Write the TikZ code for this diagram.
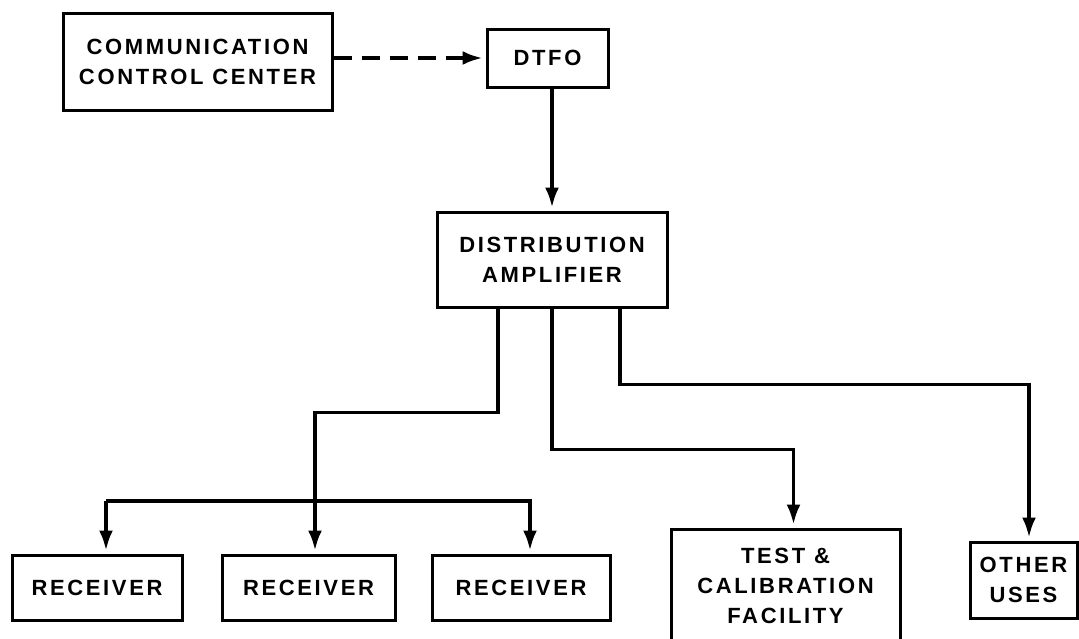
\documentclass[tikz,border=0pt]{standalone}
\usepackage{fontspec}
\usepackage{tikz}
\usetikzlibrary{arrows.meta}
\newfontfamily\boxfont{Liberation Sans}[LetterSpace=12]

\begin{document}
\begin{tikzpicture}[x=1pt,y=-1pt,
  unit/.style={draw,line width=3pt,inner sep=0pt,align=center,
    font=\boxfont\bfseries\fontsize{22}{30}\selectfont},
  line/.style={line width=3.5pt},
  arr/.style={line,-{Latex[length=20pt,width=14pt]},shorten >=3pt}]
\useasboundingbox (0,0) rectangle (1079,638);
\node[unit,minimum width=269,minimum height=97] (ccc) at (197.5,61.5) {COMMUNICATION\\CONTROL CENTER};
\node[unit,minimum width=121,minimum height=58] (dtfo) at (547.5,58) {DTFO};
\node[unit,minimum width=230,minimum height=95] (amp) at (552,259.5) {DISTRIBUTION\\AMPLIFIER};
\node[unit,minimum width=170,minimum height=65] (rec1) at (97,587.5) {RECEIVER};
\node[unit,minimum width=173,minimum height=65] (rec2) at (308.5,587.5) {RECEIVER};
\node[unit,minimum width=178,minimum height=65] (rec3) at (521,587.5) {RECEIVER};
\node[unit,minimum width=229,minimum height=113] (test) at (785.5,585.5) {TEST \&\\CALIBRATION\\FACILITY};
\node[unit,minimum width=107,minimum height=76] (other) at (1023.5,580) {OTHER\\USES};
% drop points
\coordinate (a1) at ([xshift=-54]amp.south);
\coordinate (a2) at (amp.south);
\coordinate (a3) at ([xshift=68]amp.south);
\coordinate (r1) at ([xshift=9]rec1.north);
\coordinate (r2) at ([xshift=6.5]rec2.north);
\coordinate (r3) at ([xshift=9]rec3.north);
\coordinate (t) at ([xshift=8]test.north);
\coordinate (o) at ([xshift=5.5]other.north);
\coordinate (bus) at (0,501);
\draw[arr,dashed,dash pattern=on 18pt off 10pt] (ccc.east |- dtfo) -- (dtfo.west);
\draw[arr] (amp.north |- dtfo.south) -- (amp.north);
\draw[arr] (a1) -- ++(0,104) -| (r2);
\draw[arr] (r1 |- bus) -- (r1);
\draw[arr] (r1 |- bus) -| (r3);
\draw[arr] (a2) -- ++(0,141) -| (t);
\draw[arr] (a3) -- ++(0,76) -| (o);
\end{tikzpicture}
\end{document}
